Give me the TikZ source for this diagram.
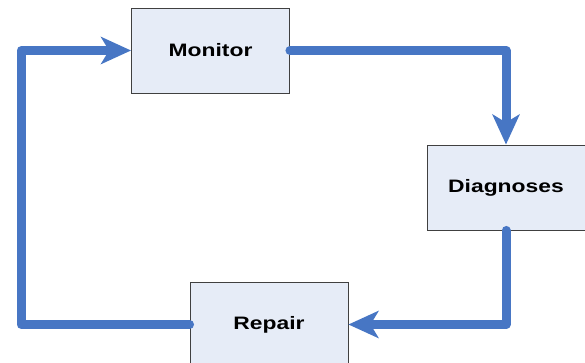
\documentclass[tikz,border=0pt]{standalone}
\usepackage{fontspec}
\setmainfont{Liberation Sans}
\usetikzlibrary{arrows.meta}
\definecolor{flowblue}{RGB}{71,118,196}
\definecolor{boxfill}{RGB}{230,236,247}
\definecolor{boxline}{RGB}{64,64,64}
\tikzset{
  stagebox/.style={draw=boxline, line width=0.9pt, fill=boxfill,
    minimum width=158pt, minimum height=85pt, inner sep=0pt},
  stagetext/.style={font=\fontsize{18}{20}\selectfont\bfseries},
  flow/.style={draw=flowblue, line width=9pt, line cap=round, line join=round},
  flowtip/.style={-{Stealth[length=30pt, width=27pt, inset=8pt]}}
}
\newcommand{\stagelabel}[1]{\scalebox{1.27}[1]{#1}}
\begin{document}
\begin{tikzpicture}[x=1pt, y=-1pt]
  \useasboundingbox (0,0) rectangle (585,363);
  \begin{scope}
    \clip (0,0) rectangle (585,363);
    % process stages
    \node[stagebox, stagetext] (mon) at (210.5,50.5) {\stagelabel{Monitor}};
    \node[stagebox, stagetext] (dia) at (506,187.5) {\stagelabel{Diagnoses}};
    \node[stagebox, stagetext] (rep) at (269,324.5) {\stagelabel{Repair}};
    % feedback loop
    \coordinate (loopcorner) at (21,324.5);
    \draw[flow, flowtip] (mon.east) -| (dia.north);
    \draw[flow, flowtip] (dia.south) |- (rep.east);
    \draw[flow, flowtip] (rep.west) -- (loopcorner) |- (mon.west);
  \end{scope}
\end{tikzpicture}
\end{document}
